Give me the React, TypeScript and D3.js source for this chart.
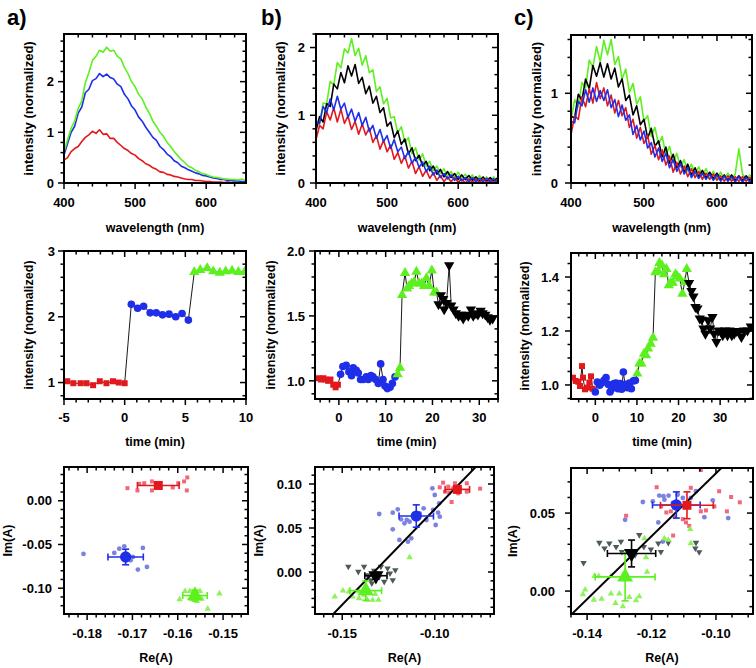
import React from "react";
import * as d3 from "d3";

const RED = "#e2181c";
const BLUE = "#1f2ee8";
const GREEN = "#5cf01e";
const BLACK = "#000000";
const RED_L = "#f2677a";
const BLUE_L = "#7b82e0";
const GREEN_L = "#8ef25a";
const GRAY_L = "#4d5a5a";
const FONT = "'Liberation Sans', Arial, sans-serif";

// ---------- top row: spectra ----------
const wavelengths = [400, 405, 410, 415, 420, 425, 430, 435, 440, 445, 450, 455, 460, 465, 470, 475, 480, 485, 490, 495, 500, 505, 510, 515, 520, 525, 530, 535, 540, 545, 550, 555, 560, 565, 570, 575, 580, 585, 590, 595, 600, 605, 610, 615, 620, 625, 630, 635, 640, 645, 650, 655];

const specA_green = [0.62, 0.85, 1.08, 1.22, 1.47, 1.62, 1.98, 2.18, 2.42, 2.5, 2.62, 2.58, 2.68, 2.6, 2.62, 2.5, 2.45, 2.28, 2.16, 2.0, 1.9, 1.75, 1.66, 1.5, 1.38, 1.22, 1.12, 1.0, 0.92, 0.8, 0.72, 0.62, 0.54, 0.46, 0.4, 0.33, 0.3, 0.25, 0.22, 0.18, 0.17, 0.14, 0.12, 0.11, 0.1, 0.08, 0.08, 0.07, 0.07, 0.06, 0.08, 0.05];
const specA_blue = [0.55, 0.78, 1.0, 1.12, 1.38, 1.5, 1.78, 1.85, 2.02, 2.06, 2.16, 2.1, 2.15, 2.08, 2.05, 1.95, 1.9, 1.75, 1.66, 1.52, 1.44, 1.3, 1.22, 1.1, 1.0, 0.9, 0.84, 0.72, 0.66, 0.57, 0.52, 0.44, 0.4, 0.33, 0.3, 0.26, 0.23, 0.2, 0.18, 0.15, 0.14, 0.12, 0.1, 0.09, 0.07, 0.07, 0.05, 0.05, 0.04, 0.04, 0.03, 0.03];
const specA_red = [0.45, 0.5, 0.62, 0.68, 0.72, 0.82, 0.9, 0.95, 1.02, 0.98, 1.05, 0.96, 0.97, 0.88, 0.88, 0.8, 0.74, 0.68, 0.64, 0.58, 0.55, 0.48, 0.44, 0.38, 0.35, 0.3, 0.27, 0.22, 0.21, 0.17, 0.16, 0.13, 0.12, 0.1, 0.08, 0.07, 0.07, 0.05, 0.05, 0.04, 0.03, 0.03, 0.02, 0.02, 0.02, 0.01, 0.02, 0.01, 0.01, 0.01, 0.01, 0.01];

const specB_green = [0.91, 0.87, 1.18, 1.17, 1.5, 1.45, 1.78, 1.7, 1.98, 1.92, 2.13, 1.88, 1.99, 1.74, 1.88, 1.63, 1.67, 1.35, 1.42, 1.17, 1.25, 0.96, 0.98, 0.74, 0.83, 0.6, 0.67, 0.43, 0.52, 0.34, 0.43, 0.25, 0.32, 0.18, 0.25, 0.14, 0.21, 0.1, 0.17, 0.08, 0.16, 0.07, 0.13, 0.05, 0.12, 0.04, 0.11, 0.03, 0.09, 0.03, 0.09, 0.03];
const specB_black = [0.77, 0.98, 0.9, 1.17, 1.13, 1.46, 1.39, 1.63, 1.48, 1.73, 1.58, 1.75, 1.47, 1.56, 1.32, 1.43, 1.18, 1.28, 1.04, 1.11, 0.84, 0.9, 0.67, 0.77, 0.57, 0.65, 0.43, 0.52, 0.33, 0.41, 0.25, 0.32, 0.18, 0.25, 0.13, 0.2, 0.09, 0.17, 0.08, 0.14, 0.05, 0.12, 0.05, 0.11, 0.04, 0.09, 0.03, 0.09, 0.03, 0.08, 0.03, 0.07];
const specB_blue = [0.89, 0.88, 1.13, 1.04, 1.24, 1.08, 1.28, 1.09, 1.18, 0.97, 1.09, 0.91, 1.04, 0.85, 0.97, 0.76, 0.85, 0.66, 0.79, 0.61, 0.7, 0.51, 0.64, 0.46, 0.53, 0.36, 0.47, 0.29, 0.38, 0.23, 0.31, 0.17, 0.25, 0.12, 0.19, 0.08, 0.14, 0.06, 0.12, 0.04, 0.1, 0.03, 0.08, 0.02, 0.08, 0.02, 0.07, 0.02, 0.07, 0.02, 0.06, 0.01];
const specB_red = [0.64, 0.85, 0.8, 1.05, 0.93, 1.11, 0.9, 1.09, 0.88, 0.99, 0.79, 0.91, 0.72, 0.87, 0.71, 0.81, 0.6, 0.7, 0.5, 0.63, 0.46, 0.56, 0.35, 0.45, 0.29, 0.4, 0.22, 0.32, 0.14, 0.24, 0.1, 0.19, 0.07, 0.15, 0.04, 0.11, 0.02, 0.09, 0.02, 0.08, 0.01, 0.06, 0.0, 0.06, 0.01, 0.06, 0.01, 0.06, 0.01, 0.05, 0.01, 0.05];

const specC_green = [0.7, 0.93, 0.85, 1.12, 1.06, 1.37, 1.29, 1.52, 1.35, 1.59, 1.43, 1.6, 1.32, 1.41, 1.16, 1.27, 1.01, 1.11, 0.88, 0.96, 0.69, 0.75, 0.52, 0.62, 0.43, 0.52, 0.31, 0.41, 0.23, 0.33, 0.18, 0.26, 0.13, 0.21, 0.1, 0.18, 0.08, 0.16, 0.07, 0.13, 0.05, 0.12, 0.05, 0.11, 0.04, 0.1, 0.38, 0.1, 0.04, 0.09, 0.03, 0.08];
const specC_black = [0.74, 0.73, 0.99, 0.92, 1.16, 1.05, 1.31, 1.19, 1.34, 1.18, 1.33, 1.16, 1.28, 1.07, 1.16, 0.92, 0.98, 0.76, 0.86, 0.65, 0.71, 0.5, 0.61, 0.41, 0.47, 0.29, 0.4, 0.22, 0.32, 0.17, 0.25, 0.12, 0.21, 0.09, 0.17, 0.07, 0.14, 0.06, 0.12, 0.05, 0.11, 0.04, 0.09, 0.03, 0.09, 0.03, 0.08, 0.03, 0.08, 0.03, 0.07, 0.02];
const specC_red = [0.54, 0.75, 0.71, 0.96, 0.85, 1.05, 0.89, 1.12, 0.94, 1.06, 0.86, 0.98, 0.78, 0.92, 0.75, 0.84, 0.62, 0.71, 0.5, 0.62, 0.44, 0.53, 0.32, 0.42, 0.26, 0.37, 0.2, 0.3, 0.12, 0.23, 0.1, 0.19, 0.07, 0.16, 0.06, 0.13, 0.04, 0.11, 0.04, 0.1, 0.03, 0.08, 0.02, 0.08, 0.02, 0.07, 0.02, 0.07, 0.02, 0.06, 0.02, 0.06];
const specC_blue = [0.69, 0.67, 0.91, 0.86, 1.04, 0.9, 1.06, 0.91, 1.03, 0.92, 1.04, 0.84, 0.93, 0.74, 0.87, 0.7, 0.76, 0.54, 0.64, 0.48, 0.58, 0.39, 0.45, 0.29, 0.39, 0.24, 0.33, 0.17, 0.26, 0.13, 0.22, 0.1, 0.17, 0.06, 0.13, 0.05, 0.11, 0.04, 0.1, 0.03, 0.09, 0.02, 0.08, 0.02, 0.07, 0.01, 0.07, 0.01, 0.06, 0.01, 0.06, 0.02];

// ---------- middle row: time traces ----------
const midA_red_t = [-4.73, -4.23, -3.63, -3.14, -2.6, -2.05, -1.5, -0.96, -0.49, 0];
const midA_red_v = [1.02, 0.99, 0.99, 0.99, 0.96, 1.02, 0.99, 1.02, 1.0, 0.99];
const midA_blue_t = [0.55, 1.07, 1.56, 2.1, 2.6, 3.12, 3.66, 4.21, 4.73, 5.25];
const midA_blue_v = [2.19, 2.13, 2.16, 2.06, 2.06, 2.03, 2.04, 2.0, 2.05, 1.95];
const midA_green_t = [5.74, 6.23, 6.8, 7.3, 7.84, 8.33, 8.85, 9.37, 9.89];
const midA_green_v = [2.68, 2.71, 2.74, 2.69, 2.67, 2.69, 2.7, 2.68, 2.68];

const midB_red_t = [-4.3, -3.8, -3.3, -2.8, -2.3, -1.8, -1.2, -0.7, -0.2];
const midB_red_v = [1.02, 1.01, 1.02, 1.01, 1.0, 1.01, 0.97, 0.95, 0.97];
const midB_blue_t = [0.36, 0.86, 1.57, 2.14, 2.71, 3.07, 3.71, 4.14, 4.64, 5.21, 5.86, 6.29, 6.86, 7.29, 7.86, 8.43, 8.93, 9.43, 9.86, 10.36, 10.93, 11.43, 12.0];
const midB_blue_v = [1.05, 1.11, 1.12, 1.07, 1.04, 1.1, 1.08, 1.06, 1.01, 1.01, 1.03, 1.01, 1.04, 1.03, 1.01, 0.98, 1.13, 1.01, 0.96, 0.94, 0.95, 0.98, 1.03];
const midB_green_t = [12.57, 13.07, 13.5, 14.14, 14.57, 15.0, 15.57, 16.07, 16.57, 17.14, 17.71, 18.21, 18.71, 19.29, 19.86, 20.36, 20.86];
const midB_green_v = [1.05, 1.1, 1.66, 1.83, 1.71, 1.73, 1.75, 1.76, 1.84, 1.75, 1.75, 1.73, 1.79, 1.73, 1.85, 1.68, 1.68];
const midB_black_t = [21.29, 21.79, 22.29, 22.5, 23.0, 23.57, 24.0, 24.5, 25.0, 25.57, 26.07, 26.57, 27.14, 27.64, 28.21, 28.71, 29.29, 29.71, 30.29, 30.71, 31.29, 31.79, 32.29, 32.86];
const midB_black_v = [1.59, 1.66, 1.63, 1.55, 1.6, 1.89, 1.58, 1.55, 1.52, 1.5, 1.51, 1.48, 1.51, 1.5, 1.55, 1.5, 1.52, 1.51, 1.54, 1.52, 1.51, 1.49, 1.47, 1.48];

const midC_red_t = [-5.37, -4.73, -4.09, -3.69, -3.21, -2.97, -2.49, -1.92, -1.44, -1.04, -0.64];
const midC_red_v = [1.027, 1.015, 1.012, 0.996, 1.07, 1.027, 0.984, 0.99, 1.009, 1.032, 0.986];
const midC_blue_t = [0, 0.48, 1.04, 1.52, 2.08, 2.57, 3.13, 3.53, 3.93, 4.49, 4.97, 5.45, 5.93, 6.33, 6.74, 7.14, 7.7, 8.18, 8.66, 9.14, 9.62];
const midC_blue_v = [0.974, 1.011, 0.999, 1.007, 1.017, 1.027, 1.002, 0.974, 0.986, 1.005, 1.007, 0.986, 1.005, 0.984, 1.048, 1.002, 0.99, 1.007, 0.986, 1.015, 1.017];
const midC_green_t = [10.1, 10.6, 11.07, 11.7, 12.19, 12.67, 13.31, 13.87, 14.43, 15.08, 15.4, 16.04, 16.52, 17.08, 17.64, 18.12, 18.6, 19.25, 19.73, 20.29, 20.93, 21.49, 21.97];
const midC_green_v = [1.042, 1.079, 1.079, 1.116, 1.11, 1.135, 1.153, 1.175, 1.418, 1.422, 1.452, 1.443, 1.41, 1.43, 1.369, 1.379, 1.379, 1.41, 1.402, 1.394, 1.338, 1.381, 1.43];
const midC_black_t = [22.53, 23.1, 23.58, 24.06, 24.54, 25.1, 25.58, 25.98, 26.46, 27.1, 27.58, 28.15, 28.55, 29.11, 29.59, 30.15, 30.63, 31.19, 31.76, 32.24, 32.8, 33.36, 33.92, 34.56, 35.12, 35.77, 36.57, 37.37];
const midC_black_v = [1.378, 1.348, 1.328, 1.289, 1.283, 1.246, 1.242, 1.209, 1.19, 1.24, 1.209, 1.252, 1.19, 1.159, 1.202, 1.2, 1.184, 1.202, 1.184, 1.202, 1.184, 1.19, 1.2, 1.196, 1.178, 1.202, 1.202, 1.217];

// ---------- bottom row: complex plane ----------
const botA_red_re = [-0.1711, -0.1689, -0.1685, -0.1674, -0.1657, -0.1657, -0.1611, -0.1599, -0.1586, -0.1579, -0.158];
const botA_red_im = [0.0144, 0.0118, 0.0194, 0.0201, 0.0221, 0.0118, 0.0152, 0.0201, 0.0221, 0.0266, 0.0118];
const botA_blue_re = [-0.1808, -0.1729, -0.174, -0.1718, -0.1704, -0.1699, -0.1677, -0.1688, -0.1668];
const botA_blue_im = [-0.0608, -0.0548, -0.0597, -0.0521, -0.0681, -0.0643, -0.054, -0.0787, -0.0757];
const botA_green_re = [-0.1596, -0.1584, -0.1573, -0.1562, -0.1551, -0.1558, -0.1534, -0.1508, -0.1547, -0.1569];
const botA_green_im = [-0.1129, -0.1034, -0.1034, -0.1045, -0.1034, -0.1148, -0.1236, -0.1061, -0.1122, -0.1122];
// mean re, mean im, err re, err im
const botA_red_mean = [-0.1643, 0.0175, 0.0046, 0.0025];
const botA_blue_mean = [-0.1715, -0.0643, 0.0039, 0.0089];
const botA_green_mean = [-0.1562, -0.1084, 0.0027, 0.0063];

const botB_red_re = [-0.0955, -0.0973, -0.0922, -0.0909, -0.0927, -0.09, -0.0873, -0.0827, -0.0827, -0.0755, -0.0891, -0.0945];
const botB_red_im = [0.1015, 0.0962, 0.0902, 0.0795, 0.097, 0.0951, 0.0894, 0.1008, 0.0913, 0.0947, 0.1008, 0.0913];
const botB_blue_re = [-0.13, -0.1227, -0.1227, -0.12, -0.1191, -0.1182, -0.1164, -0.1151, -0.1136, -0.1127, -0.1145, -0.1082, -0.106, -0.1045, -0.1013, -0.1, -0.0995, -0.0976, -0.0973, -0.0982, -0.1009];
const botB_blue_im = [0.0659, 0.0485, 0.0674, 0.0712, 0.0364, 0.0598, 0.0553, 0.0591, 0.0572, 0.0383, 0.0345, 0.0667, 0.0723, 0.0591, 0.0951, 0.0875, 0.0534, 0.078, 0.0629, 0.0674, 0.0705];
const botB_green_re = [-0.154, -0.1496, -0.1464, -0.1445, -0.1409, -0.1409, -0.1382, -0.1364, -0.1336, -0.1322, -0.1304, -0.1136];
const botB_green_im = [-0.028, -0.0212, -0.0223, -0.028, -0.0223, -0.0299, -0.0261, -0.0318, -0.0318, -0.025, -0.0318, 0.0167];
const botB_black_re = [-0.1467, -0.1413, -0.1382, -0.1364, -0.1345, -0.1327, -0.1291, -0.1273, -0.1255, -0.1242, -0.1227, -0.1213, -0.13, -0.134];
const botB_black_im = [0.0061, 0.0004, 0.0061, -0.0034, -0.0091, 0.0015, 0.0061, -0.011, 0.0042, -0.0015, -0.0091, 0.0023, -0.0053, -0.0129];
const botB_red_mean = [-0.0878, 0.0939, 0.0066, 0.004];
const botB_blue_mean = [-0.11, 0.0636, 0.0093, 0.0127];
const botB_green_mean = [-0.1373, -0.0212, 0.0086, 0.011];
const botB_black_mean = [-0.1318, -0.0042, 0.006, 0.004];
const botB_fit = [2.17, 0.2883]; // slope, intercept

const botC_red_re = [-0.1184, -0.1047, -0.1078, -0.114, -0.1154, -0.1127, -0.1103, -0.1093, -0.1047, -0.1031, -0.1005, -0.099, -0.0966, -0.0953, -0.0926, -0.1133, -0.1279, -0.117, -0.1083];
const botC_red_im = [0.0666, 0.0776, 0.0662, 0.0511, 0.0504, 0.0474, 0.0461, 0.044, 0.0511, 0.0517, 0.0543, 0.064, 0.0511, 0.0603, 0.0569, 0.0356, 0.0483, 0.0543, 0.0418];
const botC_blue_re = [-0.1282, -0.1196, -0.1176, -0.1163, -0.1147, -0.116, -0.1134, -0.1119, -0.1103, -0.1078, -0.1062, -0.1179, -0.1165, -0.1036, -0.101, -0.0962, -0.1227];
const botC_blue_im = [0.0457, 0.0575, 0.0612, 0.0608, 0.0612, 0.0586, 0.0565, 0.0618, 0.0597, 0.0597, 0.064, 0.044, 0.0317, 0.0474, 0.0582, 0.0468, 0.0571];
const botC_black_re = [-0.1411, -0.1362, -0.1331, -0.1295, -0.1292, -0.131, -0.1346, -0.1224, -0.1238, -0.1202, -0.1179, -0.1148, -0.1171, -0.1064, -0.1052, -0.1062, -0.1251];
const botC_black_im = [0.0181, 0.031, 0.0306, 0.0317, 0.0252, 0.0284, 0.0274, 0.0284, 0.036, 0.0267, 0.0306, 0.031, 0.0252, 0.0274, 0.025, 0.031, 0.0231];
const botC_green_re = [-0.1413, -0.1406, -0.1379, -0.1355, -0.1364, -0.1377, -0.1326, -0.1326, -0.1312, -0.1289, -0.13, -0.1269, -0.1222, -0.1217, -0.1214, -0.116, -0.1148, -0.108, -0.1078, -0.1248, -0.1238];
const botC_green_im = [-0.0022, 0.0009, -0.0056, -0.005, 0.0095, 0.0095, 0.0095, -0.0017, -0.0078, -0.0099, -0.0017, -0.0039, 0.0338, 0.0216, 0.0123, 0.0338, 0.0328, 0.0397, 0.0306, -0.006, -0.0034];
const botC_red_mean = [-0.109, 0.055, 0.0082, 0.0086];
const botC_blue_mean = [-0.1123, 0.0552, 0.0074, 0.0084];
const botC_black_mean = [-0.1262, 0.0241, 0.0075, 0.0086];
const botC_green_mean = [-0.1282, 0.0091, 0.0093, 0.0154];
const botC_fit = [2.017, 0.2772];

type Scale = d3.ScaleLinear<number, number>;
type Box = { x0: number; y0: number; x1: number; y1: number };

function tickValues(d0: number, d1: number, step: number) {
  const lo = Math.ceil(Math.min(d0, d1) / step - 1e-6);
  const hi = Math.floor(Math.max(d0, d1) / step + 1e-6);
  return d3.range(lo, hi + 1).map((i) => i * step);
}

const fmtMinus = (f: (n: number) => string) => (v: number) => f(v).replace("−", "-");

type PanelProps = {
  id: string;
  box: Box;
  xDomain: [number, number];
  yDomain: [number, number];
  xMajor: number[];
  yMajor: number[];
  xMinor: number;
  yMinor: number;
  xFmt: (v: number) => string;
  yFmt: (v: number) => string;
  xTitle: string;
  yTitle: string;
  yTitleX: number;
  yTitleY?: number;
  yTitleSize?: number;
  tickBase: number;
  titleBase: number;
  yGap: number;
  children: (x: Scale, y: Scale) => React.ReactNode;
};

function Panel(p: PanelProps) {
  const { box } = p;
  const x = d3.scaleLinear().domain(p.xDomain).range([box.x0, box.x1]);
  const y = d3.scaleLinear().domain(p.yDomain).range([box.y1, box.y0]);
  const xm = tickValues(p.xDomain[0], p.xDomain[1], p.xMinor);
  const ym = tickValues(p.yDomain[0], p.yDomain[1], p.yMinor);
  const big = 6;
  const small = 3.5;
  const isMajX = (v: number) => p.xMajor.some((m) => Math.abs(m - v) < p.xMinor / 10);
  const isMajY = (v: number) => p.yMajor.some((m) => Math.abs(m - v) < p.yMinor / 10);
  return (
    <g>
      <clipPath id={p.id}>
        <rect x={box.x0} y={box.y0} width={box.x1 - box.x0} height={box.y1 - box.y0} />
      </clipPath>
      <g clipPath={`url(#${p.id})`}>{p.children(x, y)}</g>
      <g stroke="#000" strokeWidth={1.5}>
        {xm.map((v, i) => {
          const len = isMajX(v) ? big : small;
          return (
            <g key={"x" + i}>
              <line x1={x(v)} x2={x(v)} y1={box.y1} y2={box.y1 + len} />
              <line x1={x(v)} x2={x(v)} y1={box.y0} y2={box.y0 + len} />
            </g>
          );
        })}
        {ym.map((v, i) => {
          const len = isMajY(v) ? big : small;
          return (
            <g key={"y" + i}>
              <line y1={y(v)} y2={y(v)} x1={box.x0 - len} x2={box.x0} />
              <line y1={y(v)} y2={y(v)} x1={box.x1 - len} x2={box.x1} />
            </g>
          );
        })}
      </g>
      <rect x={box.x0} y={box.y0} width={box.x1 - box.x0} height={box.y1 - box.y0} fill="none" stroke="#000" strokeWidth={2} />
      <g fontFamily={FONT} fontWeight="bold" fontSize={13} fill="#000">
        {p.xMajor.map((v, i) => (
          <text key={"xl" + i} x={x(v)} y={p.tickBase} textAnchor="middle">{p.xFmt(v)}</text>
        ))}
        {p.yMajor.map((v, i) => (
          <text key={"yl" + i} x={box.x0 - p.yGap} y={y(v)} dy="0.36em" textAnchor="end">{p.yFmt(v)}</text>
        ))}
      </g>
      <g fontFamily={FONT} fontWeight="bold" fontSize={12.5} fill="#000">
        <text x={(box.x0 + box.x1) / 2} y={p.titleBase} textAnchor="middle">{p.xTitle}</text>
        <text
          transform={`translate(${p.yTitleX},${p.yTitleY ?? (box.y0 + box.y1) / 2}) rotate(-90)`}
          textAnchor="middle"
          dy="0.36em"
          fontSize={p.yTitleSize ?? 12.5}
        >
          {p.yTitle}
        </text>
      </g>
    </g>
  );
}

const sym = (type: d3.SymbolType, size: number) => d3.symbol().type(type).size(size)() as string;

function Spectra({ x, y, series }: { x: Scale; y: Scale; series: [number[], string][] }) {
  const line = d3
    .line<number>()
    .x((_, i) => x(wavelengths[i]))
    .y((d) => y(d));
  return (
    <g>
      {series.map(([vals, c], i) => (
        <path key={i} d={line(vals) as string} fill="none" stroke={c} strokeWidth={1.6} strokeLinejoin="round" />
      ))}
    </g>
  );
}

type Trace = { t: number[]; v: number[]; color: string; shape: d3.SymbolType; size: number; flip?: boolean };

function TimeTrace({ x, y, traces }: { x: Scale; y: Scale; traces: Trace[] }) {
  const pts: [number, number][] = [];
  traces.forEach((tr) => tr.t.forEach((t, i) => pts.push([t, tr.v[i]])));
  const line = d3
    .line<[number, number]>()
    .x((d) => x(d[0]))
    .y((d) => y(d[1]));
  return (
    <g>
      <path d={line(pts) as string} fill="none" stroke="#000" strokeWidth={0.9} />
      {traces.map((tr, k) => (
        <g key={k} fill={tr.color}>
          {tr.t.map((t, i) => (
            <path
              key={i}
              d={sym(tr.shape, tr.size)}
              transform={`translate(${x(t)},${y(tr.v[i])})${tr.flip ? " rotate(180)" : ""}`}
            />
          ))}
        </g>
      ))}
    </g>
  );
}

type Cloud = { re: number[]; im: number[]; color: string; shape: d3.SymbolType; size: number; flip?: boolean };
type Mean = { m: number[]; color: string; shape: d3.SymbolType; size: number; flip?: boolean };

function Complex({ x, y, clouds, means, fit }: { x: Scale; y: Scale; clouds: Cloud[]; means: Mean[]; fit?: number[] }) {
  const [d0, d1] = x.domain();
  const cap = 3.5;
  return (
    <g>
      {clouds.map((c, k) => (
        <g key={k} fill={c.color}>
          {c.re.map((r, i) => (
            <path key={i} d={sym(c.shape, c.size)} transform={`translate(${x(r)},${y(c.im[i])})${c.flip ? " rotate(180)" : ""}`} />
          ))}
        </g>
      ))}
      {fit && (
        <line x1={x(d0)} y1={y(fit[0] * d0 + fit[1])} x2={x(d1)} y2={y(fit[0] * d1 + fit[1])} stroke="#000" strokeWidth={2} />
      )}
      {means.map((mm, k) => {
        const [re, im, er, ei] = mm.m;
        const cx = x(re);
        const cy = y(im);
        const xl = x(re - er);
        const xr = x(re + er);
        const yt = y(im + ei);
        const yb = y(im - ei);
        return (
          <g key={k} stroke={mm.color} strokeWidth={1.6} fill={mm.color}>
            <line x1={xl} x2={xr} y1={cy} y2={cy} />
            <line x1={xl} x2={xl} y1={cy - cap} y2={cy + cap} />
            <line x1={xr} x2={xr} y1={cy - cap} y2={cy + cap} />
            <line x1={cx} x2={cx} y1={yt} y2={yb} />
            <line x1={cx - cap} x2={cx + cap} y1={yt} y2={yt} />
            <line x1={cx - cap} x2={cx + cap} y1={yb} y2={yb} />
            <path d={sym(mm.shape, mm.size)} stroke="none" transform={`translate(${cx},${cy})${mm.flip ? " rotate(180)" : ""}`} />
          </g>
        );
      })}
    </g>
  );
}

const intFmt = fmtMinus(d3.format("d"));
const f1 = d3.format(".1f");
const f2 = fmtMinus(d3.format(".2f"));

const SQ = d3.symbolSquare;
const CI = d3.symbolCircle;
const TR = d3.symbolTriangle;

export default function App() {
  const topCommon = {
    xDomain: [400, 656] as [number, number],
    xMajor: [400, 500, 600],
    xMinor: 20,
    yMinor: 0.2,
    xFmt: intFmt,
    yFmt: intFmt,
    xTitle: "wavelength (nm)",
    yTitle: "intensity (normalized)",
    tickBase: 207,
    titleBase: 232,
    yTitleSize: 13,
  };
  const midCommon = {
    xFmt: intFmt,
    xTitle: "time (min)",
    yTitle: "intensity (normalized)",
    tickBase: 422,
    titleBase: 446,
  };
  const botCommon = {
    xFmt: f2,
    yFmt: f2,
    xTitle: "Re(A)",
    yTitle: "Im(A)",
    tickBase: 638,
    titleBase: 662,
  };
  const mtSize = { sq: 36, ci: 46, tr: 46 };
  return (
    <svg width={756} height={668} style={{ position: "absolute", left: 0, top: 0, background: "#fff" }}>
      <g fontFamily={FONT} fontWeight="bold" fontSize={22}>
        <text x={7} y={25}>a)</text>
        <text x={261} y={25}>b)</text>
        <text x={514} y={25}>c)</text>
      </g>

      {/* top row */}
      <Panel id="ta" box={{ x0: 64, y0: 34, x1: 246, y1: 183 }} {...topCommon} yDomain={[0, 2.94]} yMajor={[0, 1, 2]} yTitleX={28} yGap={10}>
        {(x, y) => <Spectra x={x} y={y} series={[[specA_red, RED], [specA_blue, BLUE], [specA_green, GREEN]]} />}
      </Panel>
      <Panel id="tb" box={{ x0: 316, y0: 34, x1: 498, y1: 183 }} {...topCommon} yDomain={[0, 2.2]} yMajor={[0, 1, 2]} yTitleX={280} yGap={11}>
        {(x, y) => <Spectra x={x} y={y} series={[[specB_green, GREEN], [specB_black, BLACK], [specB_red, RED], [specB_blue, BLUE]]} />}
      </Panel>
      <Panel id="tc" box={{ x0: 571, y0: 35, x1: 752, y1: 183 }} {...topCommon} xDomain={[400, 648]} yDomain={[0, 1.65]} yMajor={[0, 1]} yTitleX={536} yGap={13}>
        {(x, y) => <Spectra x={x} y={y} series={[[specC_green, GREEN], [specC_black, BLACK], [specC_red, RED], [specC_blue, BLUE]]} />}
      </Panel>

      {/* middle row */}
      <Panel id="ma" box={{ x0: 64, y0: 251, x1: 246, y1: 399 }} {...midCommon} xDomain={[-5, 10]} xMajor={[-5, 0, 5, 10]} xMinor={1} yDomain={[0.75, 3]} yMajor={[1, 2, 3]} yMinor={0.2} yFmt={intFmt} yTitleX={28} yGap={9}>
        {(x, y) => (
          <TimeTrace
            x={x}
            y={y}
            traces={[
              { t: midA_red_t, v: midA_red_v, color: RED, shape: SQ, size: mtSize.sq },
              { t: midA_blue_t, v: midA_blue_v, color: BLUE, shape: CI, size: mtSize.ci },
              { t: midA_green_t, v: midA_green_v, color: GREEN, shape: TR, size: mtSize.tr },
            ]}
          />
        )}
      </Panel>
      <Panel id="mb" box={{ x0: 315, y0: 251, x1: 498, y1: 399 }} {...midCommon} xDomain={[-5.1, 34]} xMajor={[0, 10, 20, 30]} xMinor={2} yDomain={[0.86, 2.0]} yMajor={[1.0, 1.5, 2.0]} yMinor={0.1} yFmt={f1} yTitleX={270} yGap={10}>
        {(x, y) => (
          <TimeTrace
            x={x}
            y={y}
            traces={[
              { t: midB_red_t, v: midB_red_v, color: RED, shape: SQ, size: mtSize.sq },
              { t: midB_blue_t, v: midB_blue_v, color: BLUE, shape: CI, size: mtSize.ci },
              { t: midB_green_t, v: midB_green_v, color: GREEN, shape: TR, size: mtSize.tr },
              { t: midB_black_t, v: midB_black_v, color: BLACK, shape: TR, size: mtSize.tr, flip: true },
            ]}
          />
        )}
      </Panel>
      <Panel id="mc" box={{ x0: 571, y0: 253, x1: 753, y1: 399 }} {...midCommon} xDomain={[-5.85, 37.9]} xMajor={[0, 10, 20, 30]} xMinor={2} yDomain={[0.948, 1.489]} yMajor={[1.0, 1.2, 1.4]} yMinor={0.05} yFmt={f1} yTitleX={524} yGap={12}>
        {(x, y) => (
          <TimeTrace
            x={x}
            y={y}
            traces={[
              { t: midC_red_t, v: midC_red_v, color: RED, shape: SQ, size: mtSize.sq },
              { t: midC_blue_t, v: midC_blue_v, color: BLUE, shape: CI, size: mtSize.ci },
              { t: midC_green_t, v: midC_green_v, color: GREEN, shape: TR, size: mtSize.tr },
              { t: midC_black_t, v: midC_black_v, color: BLACK, shape: TR, size: mtSize.tr, flip: true },
            ]}
          />
        )}
      </Panel>

      {/* bottom row */}
      <Panel id="ba" box={{ x0: 64, y0: 467, x1: 248, y1: 614 }} {...botCommon} xDomain={[-0.1851, -0.1445]} xMajor={[-0.18, -0.17, -0.16, -0.15]} xMinor={0.002} yDomain={[-0.1295, 0.0386]} yMajor={[-0.1, -0.05, 0]} yMinor={0.01} yTitleX={7} yGap={12}>
        {(x, y) => (
          <Complex
            x={x}
            y={y}
            clouds={[
              { re: botA_red_re, im: botA_red_im, color: RED_L, shape: SQ, size: 16 },
              { re: botA_blue_re, im: botA_blue_im, color: BLUE_L, shape: CI, size: 18 },
              { re: botA_green_re, im: botA_green_im, color: GREEN_L, shape: TR, size: 18 },
            ]}
            means={[
              { m: botA_red_mean, color: RED, shape: SQ, size: 81 },
              { m: botA_blue_mean, color: BLUE, shape: CI, size: 100 },
              { m: botA_green_mean, color: GREEN, shape: TR, size: 110 },
            ]}
          />
        )}
      </Panel>
      <Panel id="bb" box={{ x0: 315, y0: 467, x1: 494, y1: 614 }} {...botCommon} xDomain={[-0.1647, -0.068]} xMajor={[-0.15, -0.1]} xMinor={0.005} yDomain={[-0.0477, 0.1193]} yMajor={[0, 0.05, 0.1]} yMinor={0.01} yTitleX={258} yGap={13}>
        {(x, y) => (
          <Complex
            x={x}
            y={y}
            clouds={[
              { re: botB_red_re, im: botB_red_im, color: RED_L, shape: SQ, size: 16 },
              { re: botB_blue_re, im: botB_blue_im, color: BLUE_L, shape: CI, size: 18 },
              { re: botB_black_re, im: botB_black_im, color: GRAY_L, shape: TR, size: 18, flip: true },
              { re: botB_green_re, im: botB_green_im, color: GREEN_L, shape: TR, size: 18 },
            ]}
            fit={botB_fit}
            means={[
              { m: botB_green_mean, color: GREEN, shape: TR, size: 110 },
              { m: botB_black_mean, color: BLACK, shape: TR, size: 100, flip: true },
              { m: botB_blue_mean, color: BLUE, shape: CI, size: 100 },
              { m: botB_red_mean, color: RED, shape: SQ, size: 81 },
            ]}
          />
        )}
      </Panel>
      <Panel id="bc" box={{ x0: 571, y0: 468, x1: 753, y1: 614 }} {...botCommon} xDomain={[-0.145, -0.0885]} xMajor={[-0.14, -0.12, -0.1]} xMinor={0.005} yDomain={[-0.0147, 0.0789]} yMajor={[0, 0.05]} yMinor={0.01} yTitleX={512} yGap={16}>
        {(x, y) => (
          <Complex
            x={x}
            y={y}
            clouds={[
              { re: botC_red_re, im: botC_red_im, color: RED_L, shape: SQ, size: 16 },
              { re: botC_blue_re, im: botC_blue_im, color: BLUE_L, shape: CI, size: 18 },
              { re: botC_black_re, im: botC_black_im, color: GRAY_L, shape: TR, size: 18, flip: true },
              { re: botC_green_re, im: botC_green_im, color: GREEN_L, shape: TR, size: 18 },
            ]}
            fit={botC_fit}
            means={[
              { m: botC_green_mean, color: GREEN, shape: TR, size: 110 },
              { m: botC_black_mean, color: BLACK, shape: TR, size: 100, flip: true },
              { m: botC_blue_mean, color: BLUE, shape: CI, size: 100 },
              { m: botC_red_mean, color: RED, shape: SQ, size: 81 },
            ]}
          />
        )}
      </Panel>
    </svg>
  );
}
